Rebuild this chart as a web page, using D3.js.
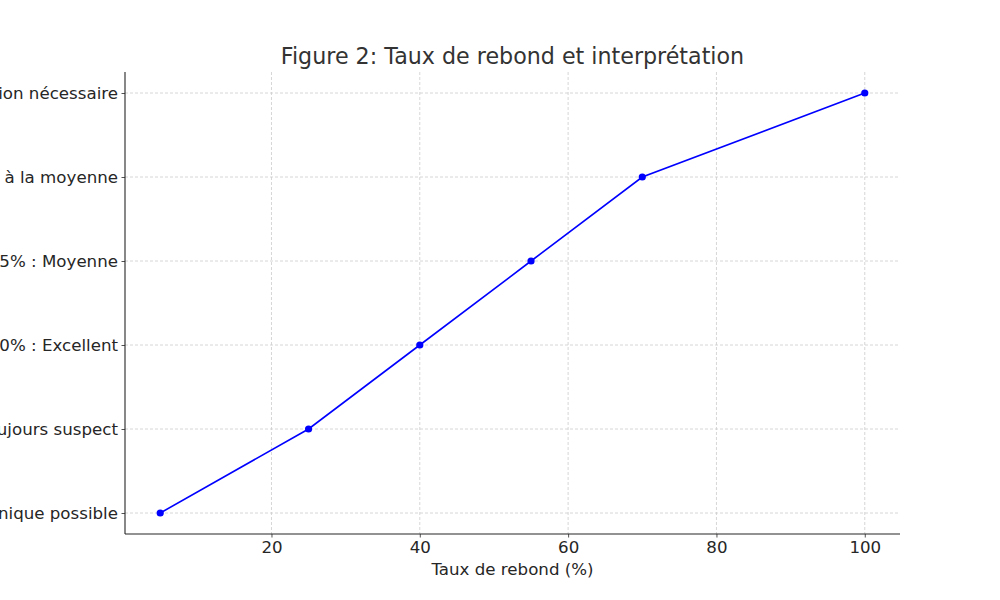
<!DOCTYPE html>
<html><head><meta charset="utf-8">
<script src="https://cdn.jsdelivr.net/npm/d3@7"></script>
<style>body{margin:0;background:#fff}svg{display:block;font-family:"DejaVu Sans",sans-serif}</style>
</head><body><svg id="c" width="1000" height="600"></svg>
<script>
const categories = [
  "< 20% : Erreur technique possible",
  "20-25% : Toujours suspect",
  "26-40% : Excellent",
  "41-55% : Moyenne",
  "56-70% : Supérieur à la moyenne",
  "> 70% : Optimisation nécessaire"
];
const rates = [5, 25, 40, 55, 70, 100];
const xTicks = [20, 40, 60, 80, 100];
const title = "Figure 2: Taux de rebond et interprétation";
const xLabel = "Taux de rebond (%)";

const svg = d3.select("#c");
const L = 125, R = 900, T = 72, B = 534;
const x = d3.scaleLinear().domain([0.25, 104.75]).range([L, R]);
const y = d3.scalePoint().domain(categories).range([B, T]).padding(0.25);

// grid
const g = svg.append("g");
g.selectAll("line.vx").data(xTicks).join("line")
  .attr("x1", d => x(d)).attr("x2", d => x(d)).attr("y1", T).attr("y2", B)
  .attr("stroke", "#cccccc").attr("stroke-width", 0.8).attr("stroke-dasharray", "3,2");
g.selectAll("line.hy").data(categories).join("line")
  .attr("x1", L).attr("x2", R).attr("y1", d => y(d)).attr("y2", d => y(d))
  .attr("stroke", "#cccccc").attr("stroke-width", 0.8).attr("stroke-dasharray", "3,2");

// axes
const xa = svg.append("g").attr("transform", `translate(0,${B})`)
  .call(d3.axisBottom(x).tickValues(xTicks).tickSize(3.5).tickPadding(3.5).tickSizeOuter(0));
const ya = svg.append("g").attr("transform", `translate(${L},0)`)
  .call(d3.axisLeft(y).tickSize(3.5).tickPadding(3.5).tickSizeOuter(0));
[xa, ya].forEach(a => {
  a.select(".domain").remove();
  a.selectAll("line").attr("stroke", "#262626").attr("stroke-width", 0.8);
  a.selectAll("text").attr("fill", "#262626").style("font-size", "16.67px").style("font-family", "DejaVu Sans");
});
svg.append("line").attr("x1", L).attr("x2", R).attr("y1", B).attr("y2", B).attr("stroke", "#262626").attr("stroke-width", 1.1);
svg.append("line").attr("x1", L).attr("x2", L).attr("y1", T).attr("y2", B).attr("stroke", "#262626").attr("stroke-width", 1.1);

// line
const pts = rates.map((r, i) => [r, categories[i]]);
svg.append("path").datum(pts)
  .attr("d", d3.line().x(d => x(d[0])).y(d => y(d[1])))
  .attr("fill", "none").attr("stroke", "#0000ff").attr("stroke-width", 1.6);
svg.selectAll("circle.p").data(pts).join("circle")
  .attr("cx", d => x(d[0])).attr("cy", d => y(d[1])).attr("r", 3.6).attr("fill", "#0000ff");

// labels
svg.append("text").attr("x", (L + R) / 2).attr("y", 64).attr("text-anchor", "middle")
  .attr("fill", "#333333").style("font-size", "22.2px").text(title);
svg.append("text").attr("x", (L + R) / 2).attr("y", 575).attr("text-anchor", "middle")
  .attr("fill", "#262626").style("font-size", "16.67px").text(xLabel);
</script></body></html>
